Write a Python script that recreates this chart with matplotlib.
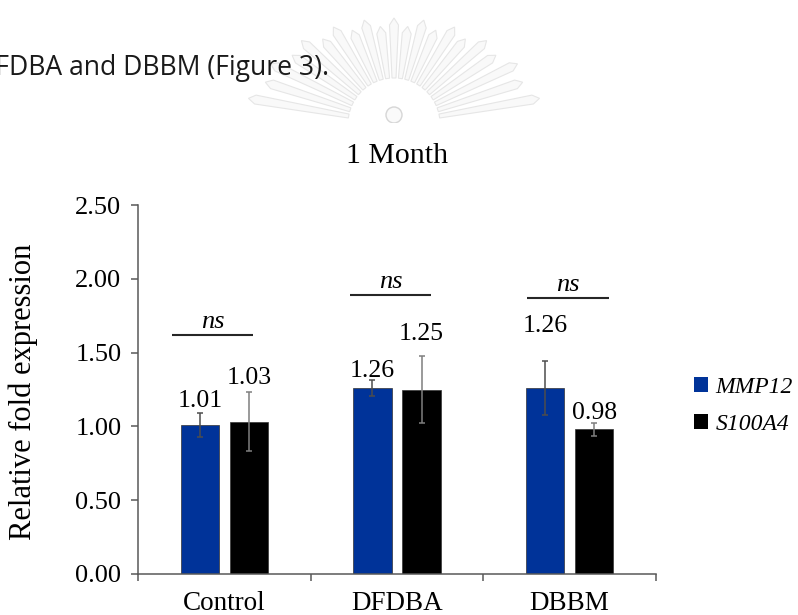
import numpy as np
import matplotlib
matplotlib.use('Agg')
import matplotlib.pyplot as plt
from matplotlib.patches import Polygon, Rectangle, Patch

# Fold expression at 1 month, per graft group
categories = ['Control', 'DFDBA', 'DBBM']
genes = ['MMP12', 'S100A4']
mmp12 = [1.01, 1.26, 1.26]
s100a4 = [1.03, 1.25, 0.98]
mmp12_err = [0.08, 0.055, 0.18]
s100a4_err = [0.20, 0.23, 0.045]
sig_text = ['ns', 'ns', 'ns']

# label placement (above error bar top)
mmp12_lift = [0.04, 0.02, 0.20]
s100a4_lift = [0.06, 0.105, 0.025]
# significance bar: y level and x span relative to group centre
sig_y = [1.62, 1.89, 1.87]
sig_span = [(-0.304, 0.165), (-0.272, 0.197), (-0.246, 0.229)]

W, H = 798, 615
serif = 'Liberation Serif'
blue = '#003399'

fig = plt.figure(figsize=(W / 100, H / 100), dpi=100)

# page layer in pixel coordinates: leftover text line and faded emblem
page = fig.add_axes([0, 0, 1, 1], zorder=0)
page.set_xlim(0, W)
page.set_ylim(H, 0)
page.axis('off')
page.text(329, 75, 'DFDBA and DBBM (Figure 3).', fontsize=19.1, family='Open Sans',
          color='#1a1a1a', ha='right', va='baseline')

clip = Rectangle((0, 0), W, 123, transform=page.transData)
cx, cy = 394, 124
for k, ang in enumerate(np.linspace(10, 170, 21)):
    a = np.deg2rad(ang)
    r_out = 1.0 / np.sqrt((np.cos(a) / 150) ** 2 + (np.sin(a) / 106) ** 2)
    r_out -= 8 * (k % 2)
    r_in = 46
    u = np.array([np.cos(a), -np.sin(a)])
    n = np.array([np.sin(a), np.cos(a)])
    poly = np.array([
        (cx, cy) + u * r_in + n * 2.0,
        (cx, cy) + u * (r_out - 7) + n * 4.5,
        (cx, cy) + u * r_out,
        (cx, cy) + u * (r_out - 7) - n * 4.5,
        (cx, cy) + u * r_in - n * 2.0,
    ])
    p = Polygon(poly, closed=True, facecolor='#f9f9f9', edgecolor='#e6e6e6', lw=0.8)
    page.add_patch(p)
    p.set_clip_path(clip)
circ = plt.Circle((cx, 115), 8, facecolor='#fafafa', edgecolor='#d6d6d6', lw=1.0)
page.add_patch(circ)
circ.set_clip_path(clip)

# chart
ax = fig.add_axes([138 / W, 1 - 574 / H, 518 / W, 369 / H], zorder=1)
ax.patch.set_alpha(0)
x = np.arange(len(categories))
bw = 0.223
off = 0.142

ax.bar(x - off, mmp12, bw, color=blue, edgecolor='#333333', lw=0.5,
       yerr=mmp12_err, error_kw=dict(ecolor='#4d4d4d', elinewidth=1.1, capsize=2.5, capthick=1.1))
ax.bar(x + off, s100a4, bw, color='black', edgecolor='#333333', lw=0.5,
       yerr=s100a4_err, error_kw=dict(ecolor='#7f7f7f', elinewidth=1.1, capsize=2.5, capthick=1.1))

for i in range(len(categories)):
    ax.text(x[i] - off, mmp12[i] + mmp12_err[i] + mmp12_lift[i], f'{mmp12[i]:.2f}',
            ha='center', va='baseline', fontsize=18.5, family=serif)
    ax.text(x[i] + off, s100a4[i] + s100a4_err[i] + s100a4_lift[i], f'{s100a4[i]:.2f}',
            ha='center', va='baseline', fontsize=18.5, family=serif)
    x0, x1 = x[i] + sig_span[i][0], x[i] + sig_span[i][1]
    ax.plot([x0, x1], [sig_y[i], sig_y[i]], color='#262626', lw=1.5, solid_capstyle='butt')
    ax.text((x0 + x1) / 2, sig_y[i] + 0.05, sig_text[i], ha='center', va='baseline',
            fontsize=19, family=serif, style='italic')

ax.set_xlim(-0.5, 2.5)
ax.set_ylim(0, 2.5)
ax.set_yticks(np.arange(0, 2.51, 0.5))
ax.set_yticklabels([f'{v:.2f}' for v in np.arange(0, 2.51, 0.5)], family=serif, fontsize=19)
ax.set_xticks([-0.5, 0.5, 1.5, 2.5])
ax.set_xticklabels([])
ax.set_xticks(x, minor=True)
ax.set_xticklabels(categories, minor=True, family=serif, fontsize=19.5)
ax.tick_params(axis='x', which='major', direction='out', length=5, width=1.1, color='#595959')
ax.tick_params(axis='x', which='minor', length=0, pad=12)
ax.tick_params(axis='y', direction='out', length=5, width=1.1, color='#595959', pad=7)
for s in ['top', 'right']:
    ax.spines[s].set_visible(False)
for s in ['left', 'bottom']:
    ax.spines[s].set_color('#595959')
    ax.spines[s].set_linewidth(1.1)

fig.text(23 / W, 1 - 392 / H, 'Relative fold expression', rotation=90, ha='center',
         va='center', fontsize=22, family=serif)
fig.text(397 / W, 1 - 163 / H, '1 Month', ha='center', va='baseline', fontsize=21.5, family=serif)

handles = [Patch(facecolor=blue, edgecolor='none'), Patch(facecolor='black', edgecolor='none')]
fig.legend(handles, genes, loc='center left', bbox_to_anchor=(694 / W, 1 - 406 / H),
           frameon=False, borderpad=0, borderaxespad=0, handlelength=0.6, handleheight=0.6,
           handletextpad=0.3, labelspacing=0.68,
           prop=dict(family=serif, style='italic', size=17))

fig.savefig('out.png', dpi=100)
